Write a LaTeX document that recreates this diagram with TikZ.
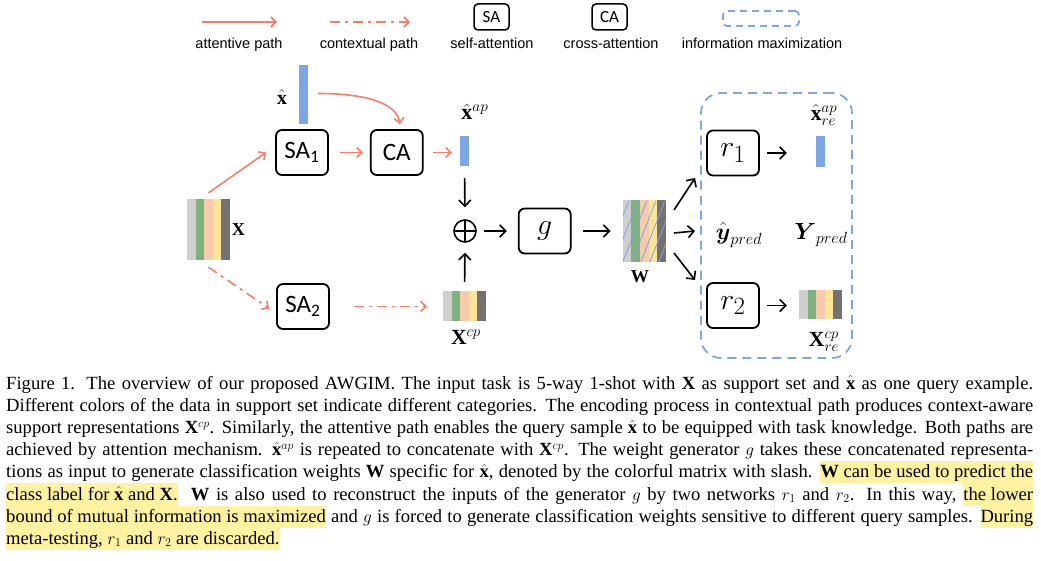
\documentclass[tikz,border=0pt]{standalone}
\usepackage{amsmath,amssymb}
\usepackage{fontspec}
\setmainfont{Liberation Serif}
\newfontfamily\legendfont{Liberation Sans}
\newfontfamily\blockfont{Carlito}
\usetikzlibrary{arrows.meta, positioning, calc}
\definecolor{salmon}{RGB}{245,125,105}
\definecolor{barblue}{RGB}{125,166,227}
\definecolor{cgray}{RGB}{207,207,207}
\definecolor{cgreen}{RGB}{127,176,127}
\definecolor{cpeach}{RGB}{247,202,172}
\definecolor{cyellow}{RGB}{255,229,153}
\definecolor{cdark}{RGB}{118,113,113}
\definecolor{hlyellow}{RGB}{255,243,163}
\newcommand{\stripefill}{%
  \foreach \c [count=\i from 0] in {cgray,cgreen,cpeach,cyellow,cdark}
    \fill[\c] ($(path picture bounding box.south west)!\i/5!(path picture bounding box.south east)$) rectangle ($(path picture bounding box.north west)!{(\i+1)/5}!(path picture bounding box.north east)$);}
\newcommand{\hatchfill}{%
  \foreach \k in {-4,...,5}
    \draw[barblue, line width=0.8pt] ($(path picture bounding box.south west)+(\k*9,0)$) -- ++(24,61);}
\newcommand{\hlt}[1]{{\setlength{\fboxsep}{0pt}\colorbox{hlyellow}{\rule[-5.6pt]{0pt}{22.2pt}#1}}}
\newcommand{\lblmath}[2]{\scalebox{#1}{$#2$}}
\tikzstyle{block} = [rectangle, rounded corners=6pt, draw=black, line width=1.8pt, minimum width=52pt, minimum height=45pt, inner sep=0pt, font=\blockfont\fontsize{25}{28}\selectfont]
\tikzstyle{mblock} = [block, font=\fontsize{24.88}{28}\selectfont]
\tikzstyle{legbox} = [rectangle, rounded corners=4pt, draw=black, line width=1.5pt, minimum width=35pt, minimum height=26pt, inner sep=0pt, font=\blockfont\fontsize{17}{20}\selectfont]
\tikzstyle{legtext} = [anchor=base, inner sep=0pt, font=\legendfont\fontsize{14.5}{17}\selectfont]
\tikzstyle{lbl} = [inner sep=0pt, font=\fontsize{17.28}{20}\selectfont]
\tikzstyle{bar} = [rectangle, fill=barblue, inner sep=0pt, minimum width=9pt]
\tikzstyle{stack} = [rectangle, inner sep=0pt, minimum width=43pt, path picture={\stripefill}]
\tikzstyle{wstack} = [rectangle, inner sep=0pt, minimum width=43pt, path picture={\stripefill\hatchfill}]
\tikzstyle{concat} = [circle, draw=black, line width=1.6pt, minimum size=22pt, inner sep=0pt, path picture={\draw[line width=1.6pt] (path picture bounding box.north) -- (path picture bounding box.south) (path picture bounding box.west) -- (path picture bounding box.east);}]
\tikzstyle{infobox} = [rectangle, draw=barblue, line width=1.8pt, dash pattern=on 9pt off 6pt, inner sep=0pt]
\tikzstyle{arrow} = [line width=1.6pt, -{Straight Barb[length=6pt,width=12pt]}]
\tikzstyle{attn} = [draw=salmon, line width=1.6pt, -{Straight Barb[length=5pt,width=10pt]}]
\tikzstyle{ctx} = [attn, dash pattern=on 10pt off 5pt on 3pt off 5pt]
\begin{document}
\begin{tikzpicture}[x=1pt, y=1pt]
		\useasboundingbox (0,0) rectangle (1041,-561);

		% legend
		\coordinate (leg1s) at (202,-22);
		\coordinate (leg1e) at (277,-22);
		\draw [attn] (leg1s) -- (leg1e);
		\node (leg1t) [legtext] at (239,-49) {attentive path};
		\coordinate (leg2s) at (330,-22);
		\coordinate (leg2e) at (410,-22);
		\draw [ctx] (leg2s) -- (leg2e);
		\node (leg2t) [legtext] at (369,-49) {contextual path};
		\node (legsa) [legbox] at (491.5,-17) {SA};
		\node (legsat) [legtext] at (492,-49) {self-attention};
		\node (legca) [legbox] at (609.5,-17) {CA};
		\node (legcat) [legtext] at (611,-49) {cross-attention};
		\node (legim) [infobox, minimum width=76pt, minimum height=15pt, rounded corners=4pt, dash pattern=on 7pt off 5pt] at (761,-18.5) {};
		\node (legimt) [legtext] at (762,-49) {information maximization};

		% attentive and contextual paths
		\node (X) [stack, minimum height=61pt] at (208.5,-229.5) {};
		\node (Xl) [lbl] at (238.5,-230) {\lblmath{1.05}{\mathbf{X}}};
		\node (SA1) [block] at (302,-152.5) {SA\textsubscript{1}};
		\node (CA) [block, right=41pt of SA1] {CA};
		\node (xq) [bar, minimum height=59pt] at (303.5,-94.5) {};
		\node (xql) [lbl] at (282,-97) {\lblmath{1.15}{\hat{\mathbf{x}}}};
		\node (xap) [bar, minimum height=30pt] at (464.5,-151) {};
		\node (xapl) [lbl] at (475,-112) {\lblmath{1.28}{\hat{\mathbf{x}}^{ap}}};
		\node (SA2) [block] at (303,-306.5) {SA\textsubscript{2}};
		\node (Xcp) [stack, minimum height=30pt] at (464.5,-306) {};
		\node (Xcpl) [lbl] at (466,-337) {\lblmath{1.25}{\mathbf{X}^{cp}}};
		\node (cat) [concat] at (465,-231) {};

		% generator and reconstruction
		\node (g) [mblock, right=41pt of cat] {\lblmath{1.2}{g}};
		\node (W) [wstack, minimum height=62pt, right=51pt of g] {};
		\node (Wl) [lbl] at (640,-277) {\lblmath{1.05}{\mathbf{W}}};
		\node (im) [infobox, minimum width=151pt, minimum height=265pt, rounded corners=20pt] at (776.5,-225.5) {};
		\node (r1) [mblock] at (733,-153) {\lblmath{1.2}{r_1}};
		\node (r2) [mblock] at (733,-305.5) {\lblmath{1.2}{r_2}};
		\node (xre) [bar, minimum height=31pt] at (820.5,-151.5) {};
		\node (xrel) [lbl] at (824,-115) {\lblmath{1.25}{\hat{\mathbf{x}}^{ap}_{re}}};
		\node (ypred) [lbl] at (739,-235) {\lblmath{1.35}{\hat{\boldsymbol{y}}_{pred}}};
		\node (Ypred) [lbl] at (821,-235) {\lblmath{1.35}{\boldsymbol{Y}_{pred}}};
		\node (Xre) [stack, minimum height=29pt] at (820.5,-304.5) {};
		\node (Xrel) [lbl] at (824,-342) {\lblmath{1.25}{\mathbf{X}^{cp}_{re}}};
		\coordinate (fan1) at (695,-178);
		\coordinate (fan2) at (695,-231);
		\coordinate (fan3) at (695,-280);

		\draw [attn] ($(X.north)+(0,6)$) -- ($(SA1.west)+(-9,0)$);
		\draw [attn] ($(xq.east)+(10,1)$) .. controls +(45,0) and +(-3,22) .. ($(CA.north)+(3,5)$);
		\draw [attn, shorten <=11pt, shorten >=7pt] (SA1) -- (CA);
		\draw [attn, shorten <=9pt, shorten >=8pt] (CA.east) -- (CA.east -| xap.west);
		\draw [ctx] ($(X.south)+(0,-7)$) -- ($(SA2.west)+(-7,-2)$);
		\draw [ctx, shorten <=24pt, shorten >=16pt] (SA2.east) -- (SA2.east -| Xcp.west);
		\draw [arrow, shorten <=12pt, shorten >=12pt] (xap) -- (cat);
		\draw [arrow, shorten <=9pt, shorten >=10pt] (Xcp) -- (cat);
		\draw [arrow, shorten <=7pt, shorten >=11pt] (cat) -- (g);
		\draw [arrow, shorten <=11pt, shorten >=12pt] (g) -- (W);
		\draw [arrow] ($(W.east)+(8,21)$) -- (fan1);
		\draw [arrow] ($(W.east)+(8,-2)$) -- (fan2);
		\draw [arrow] ($(W.east)+(8,-22)$) -- (fan3);
		\draw [arrow, shorten <=7pt, shorten >=29pt] (r1.east) -- (r1.east -| xre.west);
		\draw [arrow, shorten <=7pt, shorten >=12pt] (r2.east) -- (r2.east -| Xre.west);

		% caption
		\node (cap) [anchor=base west, inner sep=0pt, font=\fontsize{18.6}{22.2}\selectfont] at (6,-389) {\begin{minipage}[t]{1027pt}
Figure 1. The overview of our proposed AWGIM. The input task is 5-way 1-shot with $\mathbf{X}$ as support set and $\hat{\mathbf{x}}$ as one query example.\linebreak
Different colors of the data in support set indicate different categories. The encoding process in contextual path produces context-aware\linebreak
support representations $\mathbf{X}^{cp}$. Similarly, the attentive path enables the query sample $\hat{\mathbf{x}}$ to be equipped with task knowledge. Both paths are\linebreak
achieved by attention mechanism. $\hat{\mathbf{x}}^{ap}$ is repeated to concatenate with $\mathbf{X}^{cp}$. The weight generator $g$ takes these concatenated representa-\linebreak
tions as input to generate classification weights $\mathbf{W}$ specific for $\hat{\mathbf{x}}$, denoted by the colorful matrix with slash. \hlt{$\mathbf{W}$ can be used to predict the}\linebreak
\hlt{class label for $\hat{\mathbf{x}}$ and $\mathbf{X}$.}\ \ $\mathbf{W}$ is also used to reconstruct the inputs of the generator $g$ by two networks $r_1$ and $r_2$. In this way, \hlt{the lower}\linebreak
\hlt{bound of mutual information is maximized} and $g$ is forced to generate classification weights sensitive to different query samples. \hlt{During}\linebreak
\hlt{meta-testing, $r_1$ and $r_2$ are discarded.}
\end{minipage}};
	\end{tikzpicture}
\end{document}
